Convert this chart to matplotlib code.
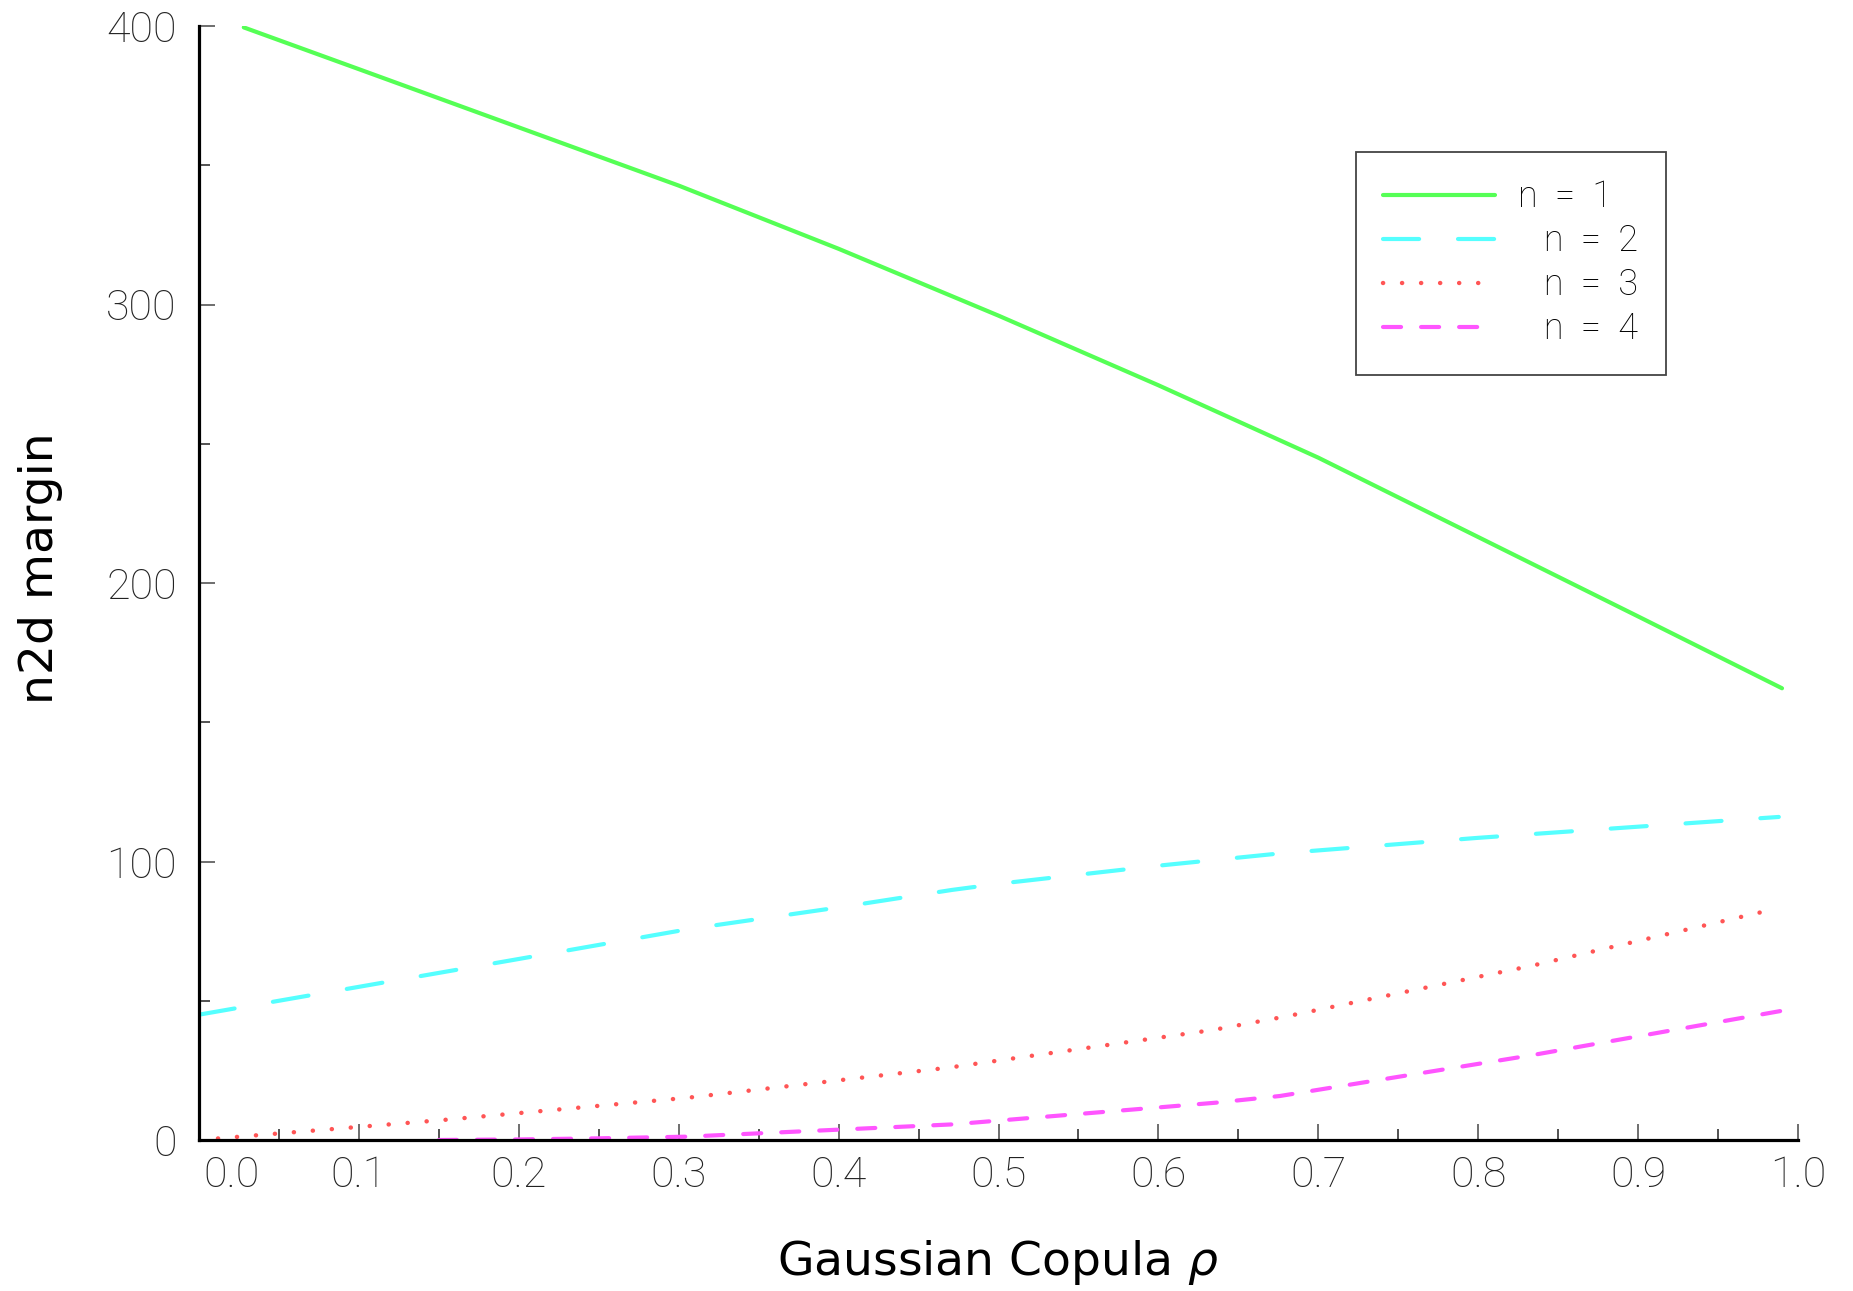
import matplotlib
matplotlib.use("Agg")
import matplotlib.pyplot as plt
import matplotlib.transforms as mtransforms
from matplotlib.ticker import MultipleLocator

plt.rcParams['lines.scale_dashes'] = False

# n = 1
rho1 = [0.028, 0.1, 0.2, 0.3, 0.4, 0.5, 0.6, 0.7, 0.8, 0.9, 0.99]
val1 = [399.5, 384.5, 363.6, 342.7, 320.0, 296.0, 271.0, 245.0, 216.5, 188.0, 162.2]
# n = 2
rho2 = [0.0, 0.1, 0.2, 0.307, 0.4, 0.471, 0.5, 0.6, 0.676, 0.8, 0.9, 0.988]
val2 = [45.0, 55.0, 65.0, 75.8, 83.5, 89.8, 92.0, 98.5, 102.9, 108.5, 112.5, 116.0]
# n = 3
rho3 = [0.0, 0.153, 0.306, 0.469, 0.634, 0.681, 0.833, 0.986]
val3 = [0.0, 7.2, 15.2, 26.0, 39.5, 44.5, 62.5, 83.0]
# n = 4
rho4 = [0.15, 0.2, 0.25, 0.305, 0.471, 0.636, 0.676, 0.834, 0.989]
val4 = [0.0, 0.2, 0.6, 1.2, 5.6, 13.4, 15.8, 30.5, 46.3]

labels = ['n  =  1', '   n  =  2', '   n  =  3', '   n  =  4']
colors = ['#55ff55', '#55ffff', '#ff5555', '#ff55ff']

fig = plt.figure(figsize=(18.53, 12.91), dpi=100)
ax = fig.add_axes([199 / 1853, 1 - 1140 / 1291, 1599 / 1853, 1114 / 1291])

ax.plot(rho1, val1, color=colors[0], lw=3, solid_capstyle='round', label=labels[0])
ax.plot(rho2, val2, color=colors[1], lw=3, linestyle=(0, (26, 28)),
        dash_capstyle='round', label=labels[1])
ax.plot(rho3, val3, color=colors[2], lw=3.2, linestyle=(0, (0.1, 13.6)),
        dash_capstyle='round', label=labels[2])
ax.plot(rho4, val4, color=colors[3], lw=3, linestyle=(0, (13, 14.4)),
        dash_capstyle='round', label=labels[3])

ax.set_xlim(0, 1.0)
ax.set_ylim(0, 400)
for s in ['top', 'right']:
    ax.spines[s].set_visible(False)
for s in ['left', 'bottom']:
    ax.spines[s].set_linewidth(2.3)
    ax.spines[s].set_color('black')

ax.xaxis.set_major_locator(MultipleLocator(0.1))
ax.xaxis.set_minor_locator(MultipleLocator(0.05))
ax.yaxis.set_major_locator(MultipleLocator(100))
ax.yaxis.set_minor_locator(MultipleLocator(50))
ax.set_xticks([i / 10 for i in range(11)])
ax.set_xticklabels(['%.1f' % (i / 10) for i in range(11)])

ax.tick_params(which='major', direction='in', length=11.5, width=1.2, colors='#555555',
               labelcolor='#222222', labelsize=31, pad=11)
ax.tick_params(which='minor', direction='in', length=8, width=1.2, colors='#333333')
ax.tick_params(axis='y', which='major', pad=16)
for lab in ax.get_xticklabels() + ax.get_yticklabels():
    lab.set_family('Roboto')
    lab.set_fontweight('light')

# the 0.0 label sits right of its tick in the original
first = ax.get_xticklabels()[0]
first.set_transform(first.get_transform() +
                    mtransforms.ScaledTranslation(33 / 100, 0, fig.dpi_scale_trans))

ax.set_xlabel('Gaussian Copula $\\rho$', fontsize=34, labelpad=30)
ax.set_ylabel('n2d margin', fontsize=34, labelpad=31)
ax.yaxis.label.set_y(0.513)

leg = ax.legend(loc='upper left', bbox_to_anchor=(1356 / 1853, 1 - 152 / 1291),
                bbox_transform=fig.transFigure, borderaxespad=0, fancybox=False,
                edgecolor='#444444', framealpha=1, handlelength=3.1, handletextpad=0.64,
                labelspacing=0.22, borderpad=0.76,
                prop={'family': 'Roboto', 'weight': 'light', 'size': 26})
leg.get_frame().set_linewidth(1.3)

fig.savefig('out.png', dpi=100, facecolor='white')
